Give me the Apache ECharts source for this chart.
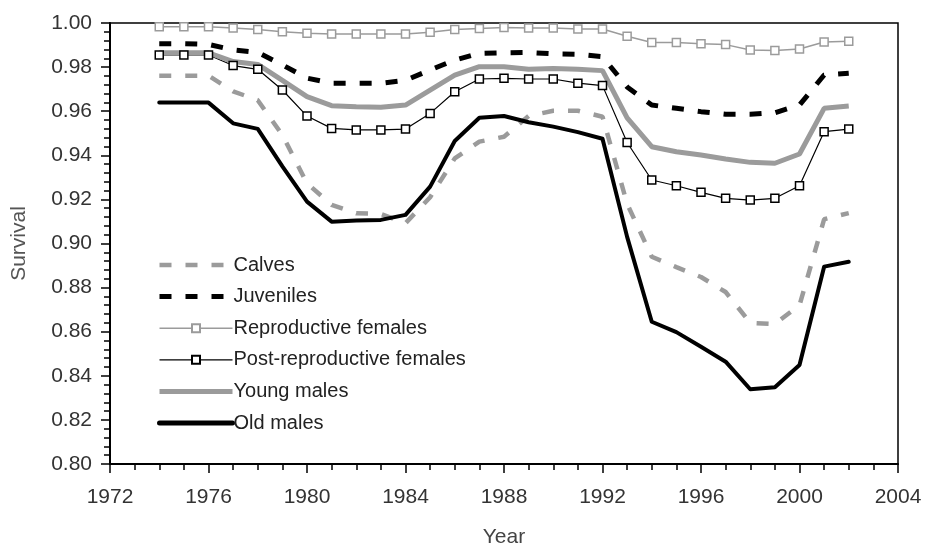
<!DOCTYPE html>
<html>
<head>
<meta charset="utf-8">
<script src="https://cdn.jsdelivr.net/npm/echarts@6/dist/echarts.min.js"></script>
<style>
  html, body { margin: 0; padding: 0; background: #fff; }
  #chart { width: 925px; height: 548px; }
</style>
</head>
<body>
<div id="chart"></div>
<script>
const years = [1974,1975,1976,1977,1978,1979,1980,1981,1982,1983,1984,1985,1986,1987,1988,1989,1990,1991,1992,1993,1994,1995,1996,1997,1998,1999,2000,2001,2002];

const calves = [0.9761,0.9761,0.9761,0.9690,0.9650,0.9492,0.9273,0.9175,0.9137,0.9134,0.9092,0.9210,0.9386,0.9462,0.9484,0.9578,0.9602,0.9602,0.9575,0.9180,0.8940,0.8893,0.8848,0.8780,0.8640,0.8635,0.8720,0.9110,0.9138];
const juveniles = [0.9906,0.9906,0.9903,0.9878,0.9867,0.9810,0.9750,0.9727,0.9727,0.9727,0.9740,0.9787,0.9832,0.9862,0.9865,0.9866,0.9860,0.9858,0.9847,0.9710,0.9628,0.9613,0.9598,0.9586,0.9586,0.9593,0.9628,0.9764,0.9772];
const reproFemales = [0.9983,0.9983,0.9983,0.9977,0.9970,0.9960,0.9953,0.9950,0.9950,0.9950,0.9950,0.9958,0.9970,0.9975,0.9980,0.9977,0.9977,0.9973,0.9973,0.9940,0.9912,0.9912,0.9906,0.9902,0.9878,0.9875,0.9882,0.9914,0.9917];
const postReproFemales = [0.9855,0.9855,0.9855,0.9807,0.9790,0.9696,0.9578,0.9522,0.9515,0.9515,0.9519,0.9590,0.9688,0.9746,0.9749,0.9746,0.9746,0.9727,0.9716,0.9458,0.9288,0.9262,0.9232,0.9205,0.9197,0.9205,0.9262,0.9507,0.9519];
const youngMales = [0.9865,0.9865,0.9865,0.9825,0.9812,0.9740,0.9666,0.9625,0.9620,0.9618,0.9628,0.9696,0.9764,0.9802,0.9802,0.9790,0.9794,0.9790,0.9784,0.9570,0.9439,0.9416,0.9401,0.9383,0.9368,0.9364,0.9406,0.9613,0.9624];
const oldMales = [0.9639,0.9639,0.9639,0.9545,0.9520,0.9350,0.9190,0.9099,0.9104,0.9107,0.9130,0.9258,0.9465,0.9570,0.9578,0.9550,0.9530,0.9505,0.9475,0.9030,0.8645,0.8598,0.8532,0.8464,0.8339,0.8348,0.8449,0.8895,0.8917];

const seriesNames = ['Calves','Juveniles','Reproductive females','Post-reproductive females','Young males','Old males'];

const pairs = arr => years.map((y, i) => [y, arr[i]]);
const GRAY = '#9b9b9b';
const FONT = 'Liberation Sans, Arial, sans-serif';

const lineStyles = [
  { color: GRAY, width: 4.5, type: [12, 14] },
  { color: '#000', width: 5, type: [12, 14] },
  { color: GRAY, width: 1.5 },
  { color: '#000', width: 1.2 },
  { color: GRAY, width: 5 },
  { color: '#000', width: 5, cap: 'round', join: 'round' }
];
const hasSymbol = [false, false, true, true, false, false];

const chart = echarts.init(document.getElementById('chart'), null, {renderer: 'canvas'});
chart.setOption({
  animation: false,
  backgroundColor: '#fff',
  grid: { left: 110, right: 27, top: 23, bottom: 84, outerBoundsMode: 'none', containLabel: false,
          show: true, borderColor: '#000', borderWidth: 1.5, backgroundColor: 'transparent' },
  legend: {
    orient: 'vertical',
    left: 152, top: 250,
    itemWidth: 73, itemHeight: 10, itemGap: 11.6,
    textStyle: { fontFamily: FONT, fontSize: 20, color: '#222', lineHeight: 20, padding: [0,0,0,-4] },
    data: seriesNames.map((n, i) => hasSymbol[i]
      ? { name: n, lineStyle: { width: lineStyles[i].width } }
      : { name: n, lineStyle: { width: lineStyles[i].width }, itemStyle: { opacity: 0 } })
  },
  xAxis: {
    type: 'value', min: 1972, max: 2004, interval: 4,
    name: 'Year', nameLocation: 'middle', nameGap: 63,
    nameTextStyle: { fontFamily: FONT, fontSize: 21, color: '#444' },
    axisLine: { lineStyle: { color: '#000', width: 2 } },
    axisTick: { show: true, length: 9, lineStyle: { color: '#000', width: 1.5 } },
    minorTick: { show: true, splitNumber: 4, length: 6, lineStyle: { color: '#000', width: 1.5 } },
    splitLine: { show: false },
    axisLabel: { fontFamily: FONT, fontSize: 21, color: '#333', margin: 23, formatter: v => String(v) }
  },
  yAxis: {
    type: 'value', min: 0.80, max: 1.00, interval: 0.02,
    name: 'Survival', nameLocation: 'middle', nameGap: 80,
    nameTextStyle: { fontFamily: FONT, fontSize: 21, color: '#555' },
    axisLine: { show: true, lineStyle: { color: '#000', width: 2 } },
    axisTick: { show: true, length: 9, lineStyle: { color: '#000', width: 1.5 } },
    minorTick: { show: true, splitNumber: 5, length: 6, lineStyle: { color: '#000', width: 1.5 } },
    splitLine: { show: false },
    axisLabel: { fontFamily: FONT, fontSize: 21, color: '#333', margin: 18, formatter: v => v.toFixed(2) }
  },
  series: [
    { name: seriesNames[0], type: 'line', data: pairs(calves), symbol: 'none', color: GRAY,
      lineStyle: lineStyles[0] },
    { name: seriesNames[1], type: 'line', data: pairs(juveniles), symbol: 'none', color: '#000',
      lineStyle: lineStyles[1] },
    { name: seriesNames[2], type: 'line', data: pairs(reproFemales), symbol: 'rect', symbolSize: 8, showAllSymbol: true,
      color: GRAY, lineStyle: lineStyles[2],
      itemStyle: { color: '#fff', borderColor: GRAY, borderWidth: 1.5 } },
    { name: seriesNames[3], type: 'line', data: pairs(postReproFemales), symbol: 'rect', symbolSize: 8, showAllSymbol: true,
      color: '#000', lineStyle: lineStyles[3],
      itemStyle: { color: '#fff', borderColor: '#000', borderWidth: 1.5 } },
    { name: seriesNames[4], type: 'line', data: pairs(youngMales), symbol: 'none', color: GRAY,
      lineStyle: lineStyles[4] },
    { name: seriesNames[5], type: 'line', data: pairs(oldMales), symbol: 'none', color: '#000',
      lineStyle: { color: '#000', width: 4, cap: 'round', join: 'round' } }
  ]
});
</script>
</body>
</html>
